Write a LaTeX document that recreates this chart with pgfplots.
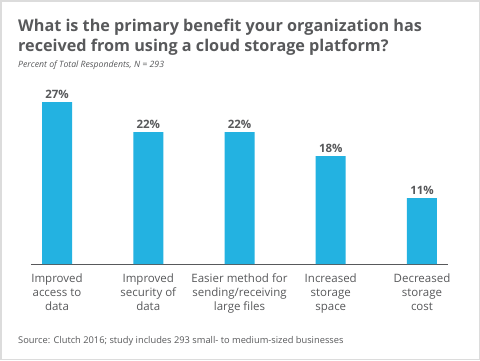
\documentclass[border=0pt]{standalone}
\usepackage{fontspec}
\setmainfont{Open Sans}
\usepackage{pgfplots}
\pgfplotsset{compat=1.18}
\definecolor{barblue}{HTML}{23B2E1}
\definecolor{txtgray}{HTML}{58595B}
\definecolor{framegray}{HTML}{DCDCDC}
\begin{document}
\begin{tikzpicture}[x=1pt,y=1pt]
\useasboundingbox (0,0) rectangle (480,360);
\fill[white] (0,0) rectangle (480,360);
\draw[framegray, line width=1.5pt] (0.75,0.75) rectangle (479.25,359.25);
\node[anchor=base west, text=txtgray, font=\fontsize{16.2}{19.5}\selectfont\bfseries, inner sep=0pt] at (18,328.5) {What is the primary benefit your organization has};
\node[anchor=base west, text=txtgray, font=\fontsize{16.2}{19.5}\selectfont\bfseries, inner sep=0pt] at (18,309) {received from using a cloud storage platform?};
\node[anchor=base west, text=txtgray, font=\fontsize{8.7}{10}\selectfont\itshape, inner sep=0pt] at (18,293) {Percent of Total Respondents, N = 293};
\node[anchor=base west, text=txtgray, font=\fontsize{9.3}{11}\selectfont, inner sep=0pt] at (18,17) {Source: Clutch 2016; study includes 293 small- to medium-sized businesses};
\begin{axis}[
  at={(31pt,96pt)}, anchor=south west,
  scale only axis, width=417pt, height=180pt,
  xmin=-0.285, xmax=4.285, ymin=0, ymax=30,
  axis x line*=bottom, axis y line=none,
  x axis line style={-, draw=txtgray, line width=0.8pt},
  xtick=data, major tick length=0pt,
  xticklabels={{Improved\\access to\\data},{Improved\\security of\\data},{Easier method for\\sending/receiving\\large files},{Increased\\storage\\space},{Decreased\\storage\\cost}},
  xticklabel style={align=center, text=txtgray, font=\fontsize{11.5}{14}\selectfont, yshift=-6pt},
  ytick=\empty,
  ybar, bar width=30pt,
  nodes near coords={\pgfmathprintnumber[assume math mode=true]{\pgfplotspointmeta}\%},
  nodes near coords style={text=txtgray, font=\fontsize{11.5}{13}\selectfont\bfseries},
  clip=false,
]
\addplot[fill=barblue, draw=none] coordinates {(0,27) (1,22) (2,22) (3,18) (4,11)};
\end{axis}
\end{tikzpicture}
\end{document}
